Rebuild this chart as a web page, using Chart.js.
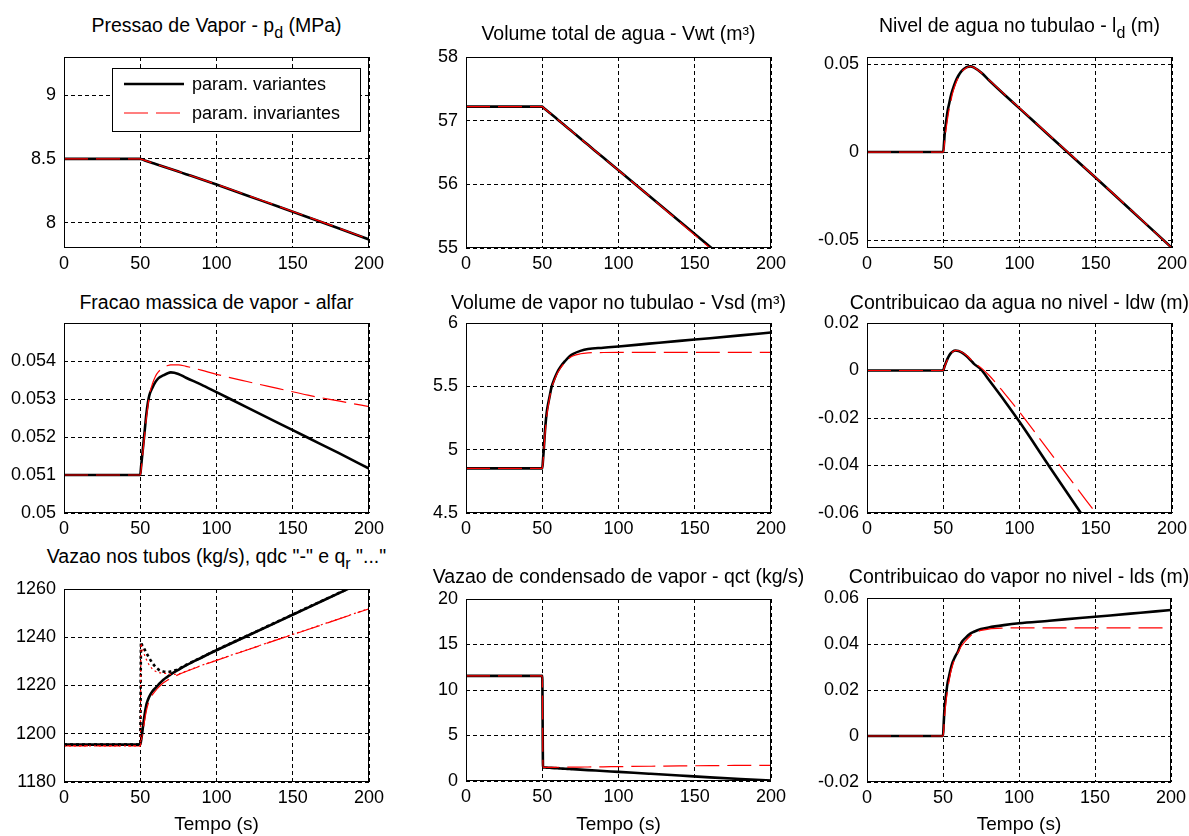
<!DOCTYPE html>
<html lang="pt">
<head>
<meta charset="UTF-8">
<title>Tubulao - parametros variantes x invariantes</title>
<script src="https://cdn.jsdelivr.net/npm/chart.js"></script>
<style>
    body { margin: 0; width: 1189px; height: 836px; overflow: hidden; position: relative; background: #fff;
           font-family: "Liberation Sans", Arial, sans-serif; color: #000; }
    canvas { position: absolute; }
    .titulo { position: absolute; text-align: center; white-space: nowrap; font-size: 19.5px; line-height: 20px; }
    .titulo sub { font-size: 16px; line-height: 0; vertical-align: -6px; }
</style>
</head>
<body>
<script>
// tempo de simulacao (s), comum a todas as curvas
const tempo = [0, 50, 50.5, 51, 52, 53, 54, 55, 56, 58, 60, 62, 65, 68, 70, 75, 80, 90, 100, 120, 140, 160, 180, 200];

// pressao de vapor pd (MPa)
const pdVar = [8.5, 8.5, 8.498, 8.496, 8.492, 8.488, 8.484, 8.48, 8.476, 8.468, 8.46, 8.452, 8.44, 8.428, 8.42, 8.4, 8.38, 8.34, 8.298, 8.212, 8.128, 8.042, 7.955, 7.867];
const pdInv = [8.5, 8.5, 8.498, 8.496, 8.492, 8.488, 8.484, 8.48, 8.476, 8.468, 8.46, 8.452, 8.44, 8.429, 8.421, 8.401, 8.381, 8.341, 8.3, 8.215, 8.13, 8.044, 7.957, 7.868];
// volume total de agua Vwt (m3)
const vwtVar = [57.22, 57.22, 57.21, 57.2, 57.18, 57.16, 57.14, 57.12, 57.1, 57.06, 57.02, 56.98, 56.92, 56.86, 56.82, 56.72, 56.62, 56.42, 56.22, 55.82, 55.42, 55.02, 54.62, 54.22];
const vwtInv = [57.22, 57.22, 57.21, 57.2, 57.18, 57.16, 57.14, 57.12, 57.1, 57.06, 57.02, 56.98, 56.92, 56.86, 56.82, 56.72, 56.62, 56.42, 56.22, 55.82, 55.41, 55.0, 54.6, 54.2];
// nivel de agua no tubulao ld (m)
const ldVar = [0, 0, 0.005, 0.011, 0.018, 0.024, 0.028, 0.032, 0.035, 0.04, 0.0435, 0.046, 0.0481, 0.0487, 0.0481, 0.045, 0.0408, 0.0327, 0.0248, 0.009, -0.0068, -0.0225, -0.0385, -0.0545];
const ldInv = [0, 0, 0.002, 0.007, 0.014, 0.02, 0.025, 0.029, 0.033, 0.0385, 0.0425, 0.0455, 0.0478, 0.0486, 0.0481, 0.0451, 0.041, 0.0329, 0.025, 0.0092, -0.0066, -0.0224, -0.0384, -0.0546];
// fracao massica de vapor alfar
const alfVar = [0.051, 0.051, 0.0512, 0.0514, 0.0518, 0.0522, 0.0526, 0.0529, 0.0531, 0.0533, 0.05345, 0.05355, 0.05362, 0.05368, 0.0537, 0.05366, 0.05356, 0.05338, 0.05318, 0.05278, 0.05238, 0.05198, 0.05158, 0.05117];
const alfInv = [0.051, 0.051, 0.0511, 0.0513, 0.0517, 0.0521, 0.0525, 0.0528, 0.0531, 0.0534, 0.0536, 0.05372, 0.05382, 0.05388, 0.0539, 0.0539, 0.05386, 0.05376, 0.05365, 0.05346, 0.05328, 0.0531, 0.05295, 0.0528];
// volume de vapor no tubulao Vsd (m3)
const vsdVar = [4.852, 4.852, 4.92, 5.0, 5.18, 5.3, 5.37, 5.43, 5.49, 5.56, 5.615, 5.655, 5.7, 5.738, 5.755, 5.78, 5.795, 5.805, 5.815, 5.837, 5.859, 5.88, 5.902, 5.925];
const vsdInv = [4.852, 4.852, 4.9, 4.98, 5.15, 5.27, 5.35, 5.42, 5.48, 5.55, 5.605, 5.645, 5.69, 5.725, 5.74, 5.757, 5.764, 5.767, 5.768, 5.768, 5.768, 5.768, 5.768, 5.768];
// contribuicao da agua no nivel ldw (m)
const ldwVar = [0, 0, 0.001, 0.002, 0.0037, 0.0052, 0.0064, 0.0073, 0.0079, 0.0084, 0.0082, 0.0076, 0.0062, 0.0043, 0.0029, 0.0003, -0.004, -0.0126, -0.0216, -0.0408, -0.0598, -0.079, -0.098, -0.117];
const ldwInv = [0, 0, 0.0008, 0.0018, 0.0034, 0.0049, 0.0061, 0.0071, 0.0078, 0.0085, 0.0083, 0.0078, 0.0065, 0.0047, 0.0034, 0.001, -0.002, -0.0095, -0.0175, -0.0345, -0.0515, -0.0685, -0.0855, -0.1025];
// vazao nos tubos (kg/s): qdc e qr
const qdcVar = [1195.5, 1195.5, 1197, 1199, 1204, 1208.5, 1212, 1214, 1215.5, 1217.6, 1219, 1220.4, 1222.3, 1223.7, 1224.6, 1226.5, 1228.3, 1231.5, 1234.6, 1240.5, 1246.4, 1252.3, 1258.2, 1264.1];
const qrVar = [1195.5, 1195.5, 1238, 1237, 1236, 1234.8, 1233.6, 1232.4, 1231.3, 1229.3, 1227.7, 1226.6, 1225.8, 1225.6, 1225.8, 1226.8, 1228.5, 1231.6, 1234.7, 1240.6, 1246.5, 1252.4, 1258.3, 1264.2];
const qdcInv = [1195, 1195, 1196.5, 1198.5, 1202, 1206, 1209.5, 1212, 1213.8, 1216.2, 1217.8, 1219.2, 1221, 1222.3, 1223, 1224.5, 1225.8, 1228.2, 1230.4, 1234.7, 1239, 1243.2, 1247.5, 1251.8];
const qrInv = [1195, 1195, 1237.5, 1236, 1234, 1232.3, 1230.8, 1229.5, 1228.4, 1226.8, 1225.9, 1225.4, 1225.1, 1224.9, 1224.6, 1224.8, 1225.9, 1228.3, 1230.5, 1234.8, 1239.1, 1243.3, 1247.6, 1251.9];
// vazao de condensado de vapor qct (kg/s)
const qctVar = [11.55, 11.55, 1.5, 1.5, 1.48, 1.47, 1.46, 1.45, 1.44, 1.42, 1.4, 1.38, 1.35, 1.32, 1.3, 1.25, 1.2, 1.1, 1.0, 0.8, 0.6, 0.4, 0.22, 0.05];
const qctInv = [11.55, 11.55, 1.5, 1.5, 1.5, 1.5, 1.5, 1.5, 1.5, 1.505, 1.51, 1.513, 1.517, 1.52, 1.523, 1.53, 1.54, 1.56, 1.58, 1.62, 1.66, 1.69, 1.71, 1.72];
// contribuicao do vapor no nivel lds (m)
const ldsVar = [0, 0, 0.006, 0.012, 0.018, 0.023, 0.026, 0.029, 0.0315, 0.0345, 0.037, 0.0405, 0.0428, 0.0445, 0.0452, 0.0465, 0.0472, 0.0482, 0.049, 0.0501, 0.0513, 0.0524, 0.0536, 0.0548];
const ldsInv = [0, 0, 0.003, 0.008, 0.015, 0.02, 0.024, 0.0275, 0.03, 0.034, 0.0365, 0.039, 0.0415, 0.0435, 0.0445, 0.0459, 0.0465, 0.0469, 0.047, 0.047, 0.047, 0.047, 0.047, 0.047];

// marcas dos eixos
const xTicks = [0, 50, 100, 150, 200];
const pdTicks = [8, 8.5, 9];
const vwtTicks = [55, 56, 57, 58];
const ldTicks = [-0.05, 0, 0.05];
const alfTicks = [0.05, 0.051, 0.052, 0.053, 0.054];
const vsdTicks = [4.5, 5, 5.5, 6];
const ldwTicks = [-0.06, -0.04, -0.02, 0, 0.02];
const qTicks = [1180, 1200, 1220, 1240, 1260];
const qctTicks = [0, 5, 10, 15, 20];
const ldsTicks = [-0.02, 0, 0.02, 0.04, 0.06];

const legendaVar = 'param. variantes';
const legendaInv = 'param. invariantes';
const rotuloX = 'Tempo (s)';

const fonte = '"Liberation Sans", Arial, sans-serif';

// estilos das curvas
const preto = { borderColor: '#000', borderWidth: 2.6, order: 2 };
const vermelho = { borderColor: 'rgb(255,0,0)', borderWidth: 1.2, borderDash: [24, 8], order: 0 };
const pretoPont = { borderColor: '#000', borderWidth: 2.6, borderDash: [3, 3], order: 1 };
const vermPont = { borderColor: 'rgb(255,0,0)', borderWidth: 1.2, borderDash: [2, 3], order: 0 };

function serie(valores, estilo, rotulo) {
    return Object.assign({ label: rotulo, data: tempo.map((t, i) => ({ x: t, y: valores[i] })) }, estilo);
}

// caixa fechada em volta da area do grafico
const caixa = {
    id: 'caixa',
    afterDatasetsDraw(chart) {
        const { ctx, chartArea: a } = chart;
        ctx.save();
        ctx.setLineDash([]);
        ctx.strokeStyle = '#000';
        ctx.lineWidth = 1;
        ctx.strokeRect(a.left + 0.5, a.top + 0.5, a.right - a.left - 1, a.bottom - a.top - 1);
        ctx.restore();
    }
};

// legenda dentro do primeiro grafico
const legenda = {
    id: 'legenda',
    afterDraw(chart) {
        const { ctx, chartArea: a } = chart;
        const x0 = a.left + 48, y0 = a.top + 11, w = 248, h = 63;
        ctx.save();
        ctx.fillStyle = '#fff';
        ctx.fillRect(x0, y0, w, h);
        ctx.setLineDash([]);
        ctx.strokeStyle = '#000';
        ctx.lineWidth = 1;
        ctx.strokeRect(x0 + 0.5, y0 + 0.5, w, h);
        chart.data.datasets.filter(d => d.label).forEach((d, i) => {
            const y = y0 + 16 + i * 29;
            ctx.beginPath();
            ctx.strokeStyle = d.borderColor;
            ctx.lineWidth = d.borderWidth;
            ctx.setLineDash(d.borderDash || []);
            ctx.moveTo(x0 + 12, y);
            ctx.lineTo(x0 + 72, y);
            ctx.stroke();
            ctx.setLineDash([]);
            ctx.fillStyle = '#000';
            ctx.font = '18px ' + fonte;
            ctx.textBaseline = 'middle';
            ctx.fillText(d.label, x0 + 80, y + 1);
        });
        ctx.restore();
    }
};

// posicao de cada painel (area do grafico em pixels) e base do titulo
const paineis = [
    { L: 64, T: 57, R: 369, B: 248, base: 31.5, titulo: 'Pressao de Vapor - p<sub>d</sub> (MPa)',
      min: 7.8, max: 9.3, ticks: pdTicks, legenda: true,
      series: [serie(pdVar, preto, legendaVar), serie(pdInv, vermelho, legendaInv)] },
    { L: 466, T: 57, R: 771, B: 248, base: 39.5, titulo: 'Volume total de agua - Vwt (m³)',
      min: 55, max: 58, ticks: vwtTicks,
      series: [serie(vwtVar, preto), serie(vwtInv, vermelho)] },
    { L: 867, T: 57, R: 1172, B: 248, base: 31.5, titulo: 'Nivel de agua no tubulao - l<sub>d</sub> (m)',
      min: -0.0545, max: 0.054, ticks: ldTicks,
      series: [serie(ldVar, preto), serie(ldInv, vermelho)] },
    { L: 64, T: 323, R: 369, B: 513, base: 308.5, titulo: 'Fracao massica de vapor - alfar',
      min: 0.05, max: 0.055, ticks: alfTicks,
      series: [serie(alfVar, preto), serie(alfInv, vermelho)] },
    { L: 466, T: 323, R: 771, B: 513, base: 309, titulo: 'Volume de vapor no tubulao - Vsd (m³)',
      min: 4.5, max: 6, ticks: vsdTicks,
      series: [serie(vsdVar, preto), serie(vsdInv, vermelho)] },
    { L: 867, T: 323, R: 1172, B: 513, base: 309, titulo: 'Contribuicao da agua no nivel - ldw (m)',
      min: -0.06, max: 0.02, ticks: ldwTicks,
      series: [serie(ldwVar, preto), serie(ldwInv, vermelho)] },
    { L: 64, T: 589, R: 369, B: 782, base: 563, titulo: 'Vazao nos tubos (kg/s), qdc "-" e q<sub>r</sub> "..."',
      min: 1180, max: 1260, ticks: qTicks, xlabel: true,
      series: [serie(qdcVar, Object.assign({}, preto, { order: 3 })), serie(qrVar, pretoPont),
               serie(qdcInv, Object.assign({}, vermelho, { order: 1 })), serie(qrInv, vermPont)] },
    { L: 466, T: 599, R: 771, B: 781, base: 583, titulo: 'Vazao de condensado de vapor - qct (kg/s)',
      min: 0, max: 20, ticks: qctTicks, xlabel: true,
      series: [serie(qctVar, preto), serie(qctInv, vermelho)] },
    { L: 867, T: 598, R: 1171, B: 782, base: 583, titulo: 'Contribuicao do vapor no nivel - lds (m)',
      min: -0.02, max: 0.06, ticks: ldsTicks, xlabel: true,
      series: [serie(ldsVar, preto), serie(ldsInv, vermelho)] }
];

function eixo(extra) {
    return Object.assign({
        grid: { color: '#000', lineWidth: 1, drawTicks: false },
        border: { display: false, dash: [4, 3] },
        ticks: { color: '#000', font: { family: fonte, size: 18 }, autoSkip: false, maxRotation: 0,
                 callback: v => String(v) }
    }, extra);
}

function criaPainel(p) {
    // folgas em volta da area do grafico: eixo y, topo, direita, eixo x
    const YW = 60, PT = 22, PR = 24;
    const XH = p.xlabel ? 836 - p.B : 30;

    const titulo = document.createElement('div');
    titulo.className = 'titulo';
    titulo.innerHTML = p.titulo;
    const centro = (p.L + p.R) / 2;
    titulo.style.left = (centro - 300) + 'px';
    titulo.style.width = '600px';
    titulo.style.top = (p.base - 17) + 'px';
    document.body.appendChild(titulo);

    const canvas = document.createElement('canvas');
    canvas.width = p.R - p.L + YW + PR;
    canvas.height = p.B - p.T + PT + XH;
    canvas.style.left = (p.L - YW) + 'px';
    canvas.style.top = (p.T - PT) + 'px';
    document.body.appendChild(canvas);

    const x = eixo({
        type: 'linear', min: 0, max: 200,
        afterBuildTicks: s => { s.ticks = xTicks.map(v => ({ value: v })); },
        afterFit: s => { s.height = XH; },
        title: { display: !!p.xlabel, text: rotuloX, color: '#000', font: { family: fonte, size: 19 },
                 padding: { top: 0, bottom: 0 } }
    });
    x.ticks.padding = 5;
    const y = eixo({
        type: 'linear', min: p.min, max: p.max,
        afterBuildTicks: s => { s.ticks = p.ticks.map(v => ({ value: v })); },
        afterFit: s => { s.width = YW; }
    });
    y.ticks = Object.assign({}, y.ticks, { padding: 8 });

    new Chart(canvas, {
        type: 'line',
        data: { datasets: p.series },
        options: {
            responsive: false,
            animation: false,
            devicePixelRatio: 1,
            layout: { padding: { top: PT, right: PR, left: 0, bottom: 0 } },
            elements: { point: { radius: 0 }, line: { cubicInterpolationMode: 'monotone' } },
            plugins: { legend: { display: false }, tooltip: { enabled: false } },
            scales: { x: x, y: y }
        },
        plugins: p.legenda ? [caixa, legenda] : [caixa]
    });
}

paineis.forEach(criaPainel);
</script>
</body>
</html>
